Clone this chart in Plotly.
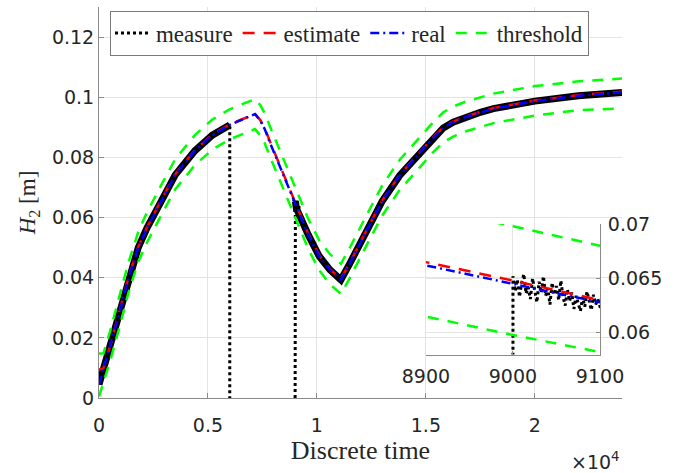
import plotly.graph_objects as go

# ---------------- data ----------------
t = [0, 200, 500, 900, 1350, 1800, 2200, 2900, 3500, 4400, 5200, 6000, 6600, 7160, 7400,
     7600, 7850, 8300, 8900, 9000, 9100, 9600, 10100, 10600, 11100, 11500, 12300, 13000,
     13800, 14800, 15350, 15800, 16250, 16850, 17500, 18100, 20000, 22000, 24000]

real = [0.0045, 0.0095, 0.0168, 0.0273, 0.0398, 0.0500, 0.0565, 0.0662, 0.0742, 0.0822,
        0.0874, 0.0908, 0.0926, 0.0944, 0.0922, 0.0895, 0.0848, 0.0770, 0.0662, 0.0645,
        0.0628, 0.0543, 0.0472, 0.0426, 0.0393, 0.0446, 0.0559, 0.0655, 0.0740, 0.0822,
        0.0866, 0.0898, 0.0917, 0.0935, 0.0950, 0.0962, 0.0987, 0.1005, 0.1016]

estimate = [0.0095, 0.0098, 0.0170, 0.0275, 0.0400, 0.0502, 0.0567, 0.0664, 0.0744, 0.0824,
            0.0876, 0.0910, 0.0928, 0.0944, 0.0924, 0.0898, 0.0852, 0.0774, 0.0665, 0.0648,
            0.0630, 0.0546, 0.0475, 0.0428, 0.0396, 0.0448, 0.0561, 0.0657, 0.0742, 0.0824,
            0.0868, 0.0900, 0.0919, 0.0937, 0.0952, 0.0964, 0.0989, 0.1007, 0.1018]

thr_upper = [0.0148, 0.0148, 0.0220, 0.0325, 0.0450, 0.0552, 0.0617, 0.0714, 0.0794, 0.0874,
             0.0926, 0.0960, 0.0978, 0.0994, 0.0974, 0.0948, 0.0902, 0.0824, 0.0715, 0.0698,
             0.0680, 0.0596, 0.0525, 0.0478, 0.0446, 0.0498, 0.0611, 0.0707, 0.0792, 0.0874,
             0.0918, 0.0950, 0.0969, 0.0986, 0.1000, 0.1012, 0.1037, 0.1053, 0.1062]

thr_lower = [0.0005, 0.0048, 0.0120, 0.0225, 0.0350, 0.0452, 0.0517, 0.0614, 0.0694, 0.0774,
             0.0826, 0.0860, 0.0878, 0.0894, 0.0874, 0.0848, 0.0802, 0.0724, 0.0615, 0.0598,
             0.0580, 0.0496, 0.0425, 0.0378, 0.0346, 0.0398, 0.0511, 0.0607, 0.0692, 0.0774,
             0.0818, 0.0850, 0.0869, 0.0887, 0.0902, 0.0914, 0.0939, 0.0957, 0.0963]

# measurement: before the sensor outage
meas_t1 = [0, 200, 500, 900, 1350, 1800, 2200, 2900, 3500, 4400, 5200, 6000]
meas_v1 = [0.0045, 0.0095, 0.0168, 0.0273, 0.0398, 0.0500, 0.0565, 0.0662, 0.0742, 0.0822,
           0.0874, 0.0908]
# measurement after the outage (noisy samples 9000..9100, then coarser)
meas_t2 = [9000 + 2.5 * i for i in range(41)] + [9600, 10100, 10600, 11100, 11500, 12300,
                                                 13000, 13800, 14800, 15350, 15800, 16250,
                                                 16850, 17500, 18100, 20000, 22000, 24000]
meas_v2 = [0.0652, 0.0638, 0.0649, 0.0633, 0.0646, 0.0654, 0.0636, 0.0642, 0.0631, 0.0650,
           0.0640, 0.0628, 0.0647, 0.0637, 0.0652, 0.0634, 0.0641, 0.0626, 0.0646, 0.0635,
           0.0643, 0.0630, 0.0648, 0.0633, 0.0625, 0.0640, 0.0629, 0.0637, 0.0622, 0.0634,
           0.0627, 0.0620, 0.0633, 0.0624, 0.0638, 0.0628, 0.0621, 0.0635, 0.0626, 0.0631,
           0.0624,
           0.0543, 0.0472, 0.0426, 0.0393, 0.0446, 0.0559, 0.0655, 0.0740, 0.0822, 0.0866,
           0.0898, 0.0917, 0.0935, 0.0950, 0.0962, 0.0987, 0.1005, 0.1016]
outage_value = 0.0

x_tickvals = [0, 5000, 10000, 15000, 20000]
x_ticktext = ["0", "0.5", "1", "1.5", "2"]
y_tickvals = [0, 0.02, 0.04, 0.06, 0.08, 0.10, 0.12]
y_ticktext = ["0", "0.02", "0.04", "0.06", "0.08", "0.1", "0.12"]
inset_xticks = [8900, 9000, 9100]
inset_yticks = [0.06, 0.065, 0.07]
inset_yticktext = ["0.06", "0.065", "0.07"]

# ---------------- styling ----------------
SERIF = "Liberation Serif, Times New Roman, serif"
SANS = "DejaVu Sans, sans-serif"
TXT = "#262626"
GRID = "#e4e4e4"
AXL = "#8a8a8a"

fig = go.Figure()

meas_dot_x = meas_t1 + [meas_t1[-1], None, meas_t2[0]] + meas_t2
meas_dot_y = meas_v1 + [outage_value, None, outage_value] + meas_v2
band_x = meas_t1 + [None] + meas_t2
band_y = meas_v1 + [None] + meas_v2


def add_all(xa, ya, main):
    if main:
        fig.add_trace(go.Scatter(x=band_x, y=band_y, mode="lines", xaxis=xa, yaxis=ya,
                                 line=dict(color="black", width=7), showlegend=False,
                                 hoverinfo="skip"))
    fig.add_trace(go.Scatter(x=meas_dot_x, y=meas_dot_y, mode="lines", xaxis=xa, yaxis=ya,
                             name="measure", showlegend=main,
                             line=dict(color="black", width=3, dash="dot")))
    fig.add_trace(go.Scatter(x=t, y=estimate, mode="lines", xaxis=xa, yaxis=ya,
                             name="estimate", showlegend=main,
                             line=dict(color="#ff0000", width=2.5, dash="12px,9px")))
    fig.add_trace(go.Scatter(x=t, y=real, mode="lines", xaxis=xa, yaxis=ya,
                             name="real", showlegend=main,
                             line=dict(color="#0000ff", width=2.5, dash="9px,4px,2px,4px")))
    fig.add_trace(go.Scatter(x=t, y=thr_upper, mode="lines", xaxis=xa, yaxis=ya,
                             name="threshold", showlegend=main, legendgroup="thr",
                             line=dict(color="#00ff00", width=2.5, dash="11px,9px")))
    fig.add_trace(go.Scatter(x=t, y=thr_lower, mode="lines", xaxis=xa, yaxis=ya,
                             name="threshold", showlegend=False, legendgroup="thr",
                             line=dict(color="#00ff00", width=2.5, dash="11px,9px")))


add_all("x", "y", True)
add_all("x2", "y2", False)

tickfont = dict(family=SANS, size=19, color=TXT)

fig.update_layout(
    width=685, height=473,
    margin=dict(l=99, r=63, t=7, b=75),
    paper_bgcolor="white", plot_bgcolor="rgba(0,0,0,0)",
    xaxis=dict(domain=[0, 1], range=[0, 24000], tickvals=x_tickvals, ticktext=x_ticktext,
               showgrid=True, gridcolor=GRID, zeroline=False, showline=True, linecolor=AXL,
               ticks="inside", ticklen=5, tickcolor=AXL, tickfont=tickfont,
               ticklabelstandoff=10,
               title=dict(text="Discrete time", font=dict(family=SERIF, size=26, color=TXT),
                          standoff=2),
               automargin=False),
    yaxis=dict(domain=[0, 1], range=[0, 0.13], tickvals=y_tickvals, ticktext=y_ticktext,
               showgrid=True, gridcolor=GRID, zeroline=False, showline=True, linecolor=AXL,
               ticks="inside", ticklen=5, tickcolor=AXL, tickfont=tickfont,
               title=dict(text="<i>H</i><sub>2</sub> [m]",
                          font=dict(family=SERIF, size=23, color=TXT), standoff=9),
               automargin=False),
    xaxis2=dict(domain=[0.625, 0.958], range=[8900, 9100], anchor="y2",
                tickvals=inset_xticks, showgrid=True, gridcolor=GRID, zeroline=False,
                showline=True, linecolor=AXL, ticks="inside", ticklen=4, tickcolor=AXL,
                tickfont=tickfont, ticklabelstandoff=5, automargin=False),
    yaxis2=dict(domain=[0.111, 0.445], range=[0.058, 0.07], anchor="x2", side="right",
                tickvals=inset_yticks, ticktext=inset_yticktext, showgrid=True,
                gridcolor=GRID, zeroline=False, showline=True, linecolor=AXL,
                ticks="inside", ticklen=4, tickcolor=AXL, tickfont=tickfont,
                ticklabelstandoff=3, automargin=False),
    legend=dict(orientation="h", x=0.021, y=0.991, xanchor="left", yanchor="top",
                bgcolor="white", bordercolor="#7a7a7a", borderwidth=1,
                font=dict(family=SERIF, size=23, color=TXT), itemwidth=36,
                tracegroupgap=0),
    annotations=[dict(text="×10<sup>4</sup>", xref="paper", yref="paper", x=1.0,
                      y=-0.162, xanchor="right", yanchor="middle", showarrow=False,
                      font=dict(family=SANS, size=19, color=TXT))],
)

fig.write_html("out.html", config={"displayModeBar": False},
               post_script="document.body.style.margin='0px';")
